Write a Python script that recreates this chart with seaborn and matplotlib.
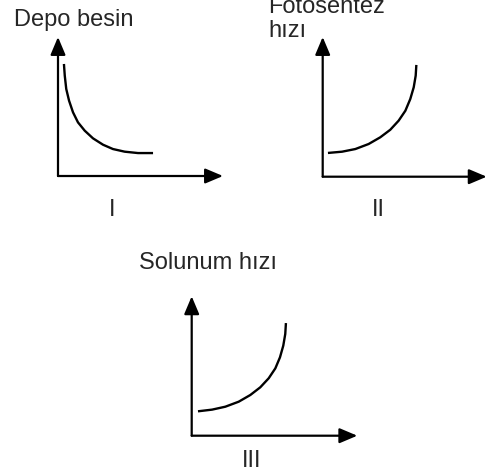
import matplotlib
matplotlib.use("Agg")
import matplotlib.pyplot as plt
import seaborn as sns

# Eğrilerden okunan noktalar (her grafikte eksenler 0-10 arası)
depo_x = [0.36, 0.41, 0.50, 0.67, 0.91, 1.21, 1.62, 2.12, 2.73, 3.33, 4.04, 4.85, 5.76]
depo_y = [8.06, 7.22, 6.26, 5.42, 4.58, 3.86, 3.26, 2.71, 2.25, 1.94, 1.75, 1.65, 1.65]

foto_x = [0.32, 1.18, 1.99, 2.80, 3.51, 4.12, 4.63, 5.04, 5.34, 5.55, 5.67, 5.71]
foto_y = [1.70, 1.79, 1.98, 2.34, 2.82, 3.36, 4.01, 4.72, 5.56, 6.40, 7.23, 8.00]

solunum_x = [0.38, 1.23, 2.03, 2.84, 3.54, 4.14, 4.65, 5.05, 5.33, 5.53, 5.65, 5.69]
solunum_y = [1.75, 1.87, 2.08, 2.44, 2.92, 3.47, 4.12, 4.83, 5.62, 6.46, 7.30, 8.08]

eksen_etiketleri = ["Depo besin", "Fotosentez\nhızı", "Solunum hızı"]
grafik_adlari = ["I", "II", "III"]

sns.set_style("white")
plt.rcParams['font.family'] = ['Liberation Sans', 'DejaVu Sans']

fig = plt.figure(figsize=(4.91, 4.77), dpi=100)

# grafiklerin yerleri (şekil oranı)
konumlar = [
    [58 / 491, 1 - 177 / 477, 165 / 491, 139 / 477],
    [322.7 / 491, 1 - 177.7 / 477, 164 / 491, 139.7 / 477],
    [191.7 / 491, 1 - 436.7 / 477, 165.6 / 491, 139.4 / 477],
]
egriler = [(depo_x, depo_y), (foto_x, foto_y), (solunum_x, solunum_y)]

for pos, (xs, ys) in zip(konumlar, egriler):
    ax = fig.add_axes(pos)
    sns.lineplot(x=xs, y=ys, sort=False, color='black', linewidth=1.7, ax=ax,
                 solid_joinstyle='round', solid_capstyle='butt')
    ax.set_xlim(0, 10)
    ax.set_ylim(0, 10)
    ax.axis('off')
    ok = dict(arrowstyle='-|>,head_length=0.9,head_width=0.38', color='black',
              lw=1.6, shrinkA=0, shrinkB=0, mutation_scale=12)
    ax.annotate('', xy=(10, 0), xytext=(0, 0), arrowprops=ok, annotation_clip=False)
    ax.annotate('', xy=(0, 10), xytext=(0, 0), arrowprops=ok, annotation_clip=False)

# Eksen yazıları
fig.text(14 / 491, 1 - 26 / 477, eksen_etiketleri[0], fontsize=17, va='baseline')
fig.text(268.3 / 491, 1 - 36.7 / 477, eksen_etiketleri[1], fontsize=17,
         va='baseline', linespacing=1.1)
fig.text(139.3 / 491, 1 - 269 / 477, eksen_etiketleri[2], fontsize=17, va='baseline')

# Grafik numaraları
fig.text(111.7 / 491, 1 - 216 / 477, grafik_adlari[0], fontsize=17, ha='center', va='baseline')
fig.text(378 / 491, 1 - 216 / 477, grafik_adlari[1], fontsize=17, ha='center', va='baseline')
fig.text(251.7 / 491, 1 - 466.7 / 477, grafik_adlari[2], fontsize=17, ha='center', va='baseline')

plt.savefig("out.png", dpi=100)
